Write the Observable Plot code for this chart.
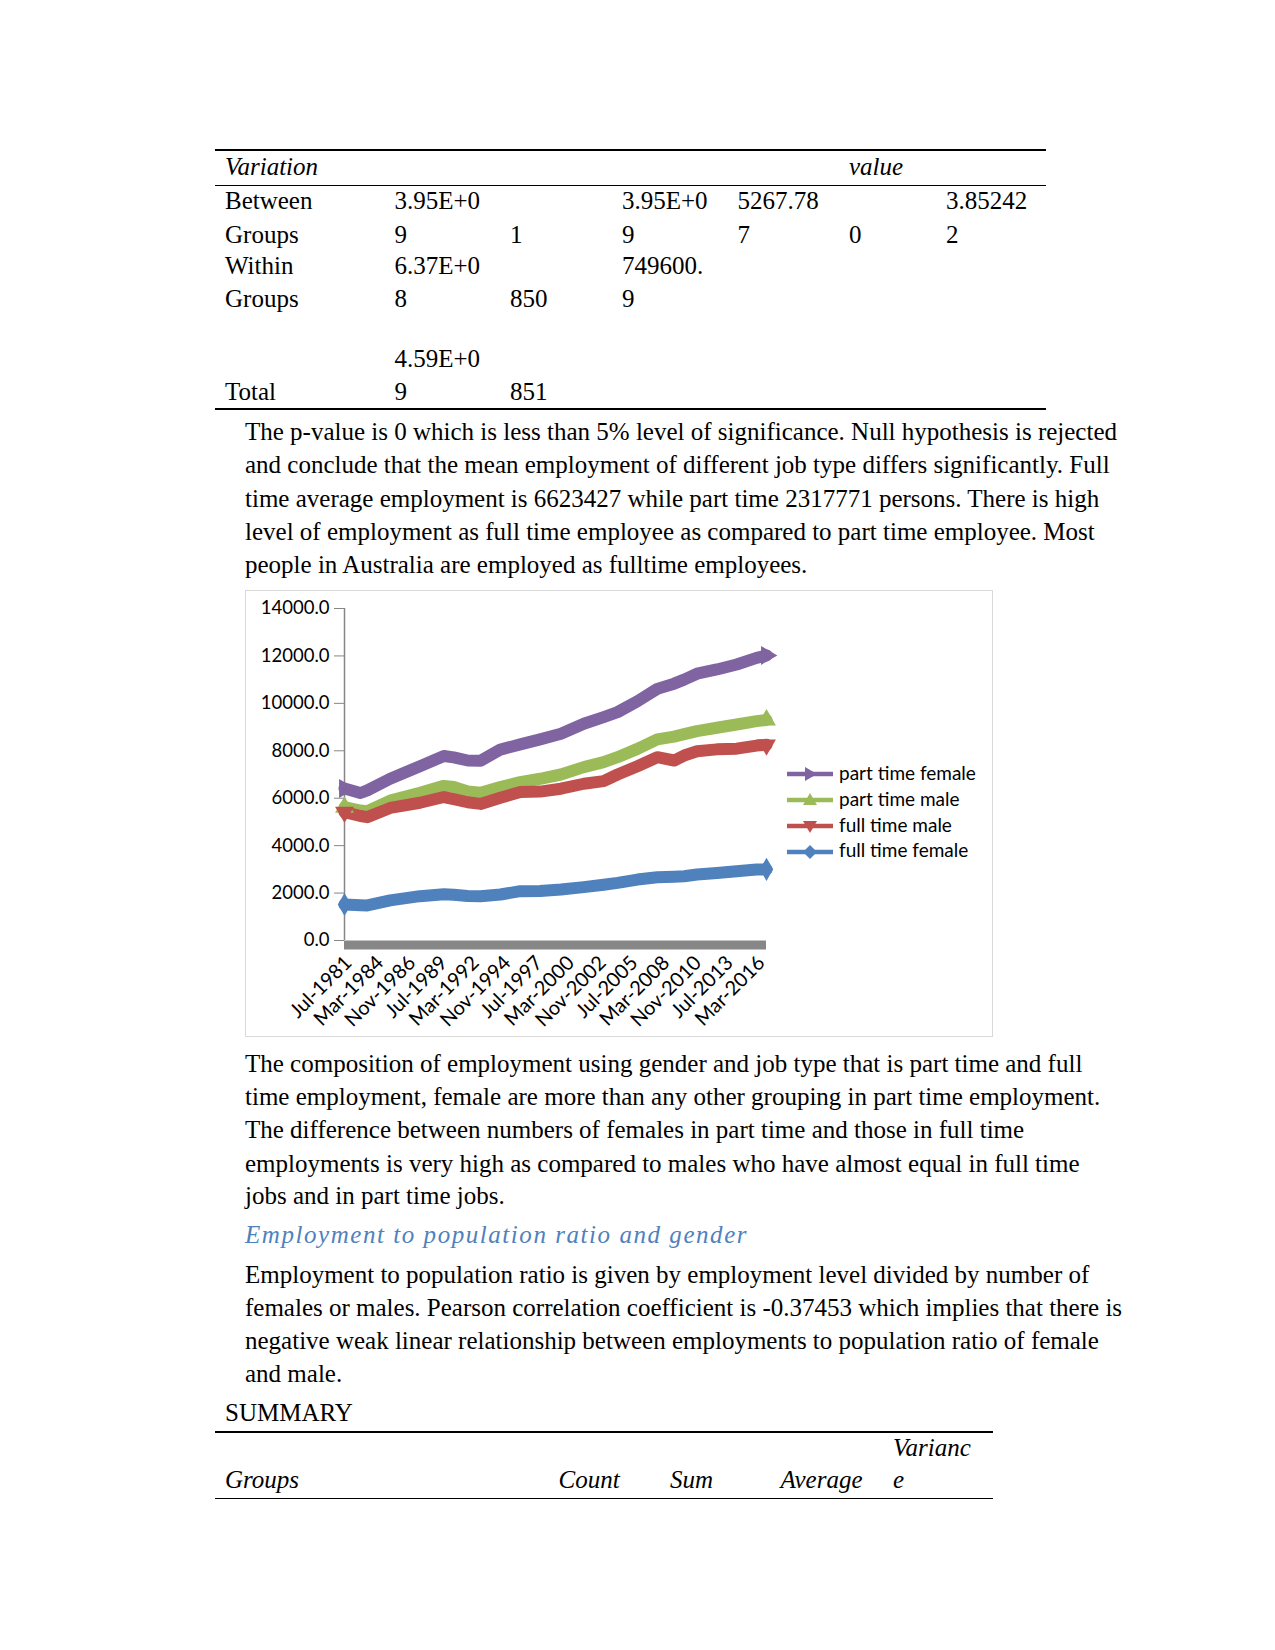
<!DOCTYPE html>
<html>
<head>
<meta charset="utf-8">
<script src="https://cdn.jsdelivr.net/npm/d3@7"></script>
<script src="https://cdn.jsdelivr.net/npm/@observablehq/plot@0.6"></script>
<style>
  html, body { margin: 0; padding: 0; background: #fff; }
  #page { position: relative; width: 1275px; height: 1650px; overflow: hidden; }
  .t { position: absolute; font-family: "Liberation Serif", "Times New Roman", serif; font-size: 25px; line-height: 30px; height: 30px; white-space: nowrap; color: #000; }
  .i { font-style: italic; }
  .rule { position: absolute; background: #000; }
  .h { color: #4f81bd; font-style: italic; letter-spacing: 1.55px; }
  #chartbox { position: absolute; left: 245px; top: 590px; width: 748px; height: 447px; box-sizing: border-box; border: 1px solid #d9d9d9; }
  #chart { position: absolute; left: 245px; top: 590px; }
  #legend { position: absolute; left: 787px; top: 760px; font-family: Lato, "Open Sans", sans-serif; font-size: 19px; color: #000; }
  .lg { position: relative; height: 25.8px; line-height: 26px; white-space: nowrap; }
  .lg svg { vertical-align: middle; margin-right: 6px; position: relative; top: -1px; }
</style>
</head>
<body>
<div id="page">
  <!-- ANOVA table -->
  <div class="rule" style="left:215px;top:149px;width:831px;height:2px"></div>
  <div class="t i" style="left:225px;top:152px">Variation</div>
  <div class="t i" style="left:849px;top:152px">value</div>
  <div class="rule" style="left:215px;top:184.5px;width:831px;height:1px"></div>
  <div class="t" style="left:225px;top:186px">Between</div>
  <div class="t" style="left:394.5px;top:186px">3.95E+0</div>
  <div class="t" style="left:622px;top:186px">3.95E+0</div>
  <div class="t" style="left:737.5px;top:186px">5267.78</div>
  <div class="t" style="left:946px;top:186px">3.85242</div>
  <div class="t" style="left:225px;top:220px">Groups</div>
  <div class="t" style="left:394.5px;top:220px">9</div>
  <div class="t" style="left:510px;top:220px">1</div>
  <div class="t" style="left:622px;top:220px">9</div>
  <div class="t" style="left:737.5px;top:220px">7</div>
  <div class="t" style="left:849px;top:220px">0</div>
  <div class="t" style="left:946px;top:220px">2</div>
  <div class="t" style="left:225px;top:251px">Within</div>
  <div class="t" style="left:394.5px;top:251px">6.37E+0</div>
  <div class="t" style="left:622px;top:251px">749600.</div>
  <div class="t" style="left:225px;top:284px">Groups</div>
  <div class="t" style="left:394.5px;top:284px">8</div>
  <div class="t" style="left:510px;top:284px">850</div>
  <div class="t" style="left:622px;top:284px">9</div>
  <div class="t" style="left:394.5px;top:344px">4.59E+0</div>
  <div class="t" style="left:225px;top:377px">Total</div>
  <div class="t" style="left:394.5px;top:377px">9</div>
  <div class="t" style="left:510px;top:377px">851</div>
  <div class="rule" style="left:215px;top:408px;width:831px;height:2px"></div>

  <!-- Paragraph 1 -->
  <div class="t" style="left:245px;top:417px">The p-value is 0 which is less than 5% level of significance. Null hypothesis is rejected</div>
  <div class="t" style="left:245px;top:450px">and conclude that the mean employment of different job type differs significantly. Full</div>
  <div class="t" style="left:245px;top:484px">time average employment is 6623427 while part time 2317771 persons. There is high</div>
  <div class="t" style="left:245px;top:517px">level of employment as full time employee as compared to part time employee. Most</div>
  <div class="t" style="left:245px;top:550px">people in Australia are employed as fulltime employees.</div>

  <!-- Chart -->
  <div id="chartbox"></div>
  <div id="chart"></div>
  <div id="legend"></div>

  <!-- Paragraph 2 -->
  <div class="t" style="left:245px;top:1049px">The composition of employment using gender and job type that is part time and full</div>
  <div class="t" style="left:245px;top:1082px">time employment, female are more than any other grouping in part time employment.</div>
  <div class="t" style="left:245px;top:1115px">The difference between numbers of females in part time and those in full time</div>
  <div class="t" style="left:245px;top:1149px">employments is very high as compared to males who have almost equal in full time</div>
  <div class="t" style="left:245px;top:1181px">jobs and in part time jobs.</div>

  <div class="t h" style="left:245px;top:1220px">Employment to population ratio and gender</div>

  <!-- Paragraph 3 -->
  <div class="t" style="left:245px;top:1260px">Employment to population ratio is given by employment level divided by number of</div>
  <div class="t" style="left:245px;top:1293px">females or males. Pearson correlation coefficient is -0.37453 which implies that there is</div>
  <div class="t" style="left:245px;top:1326px">negative weak linear relationship between employments to population ratio of female</div>
  <div class="t" style="left:245px;top:1359px">and male.</div>

  <!-- Summary table -->
  <div class="t" style="left:225px;top:1398px">SUMMARY</div>
  <div class="rule" style="left:215px;top:1431px;width:778px;height:2px"></div>
  <div class="t i" style="left:893px;top:1433px">Varianc</div>
  <div class="t i" style="left:225px;top:1465px">Groups</div>
  <div class="t i" style="left:558.6px;top:1465px">Count</div>
  <div class="t i" style="left:670px;top:1465px">Sum</div>
  <div class="t i" style="left:780.6px;top:1465px">Average</div>
  <div class="t i" style="left:893px;top:1465px">e</div>
  <div class="rule" style="left:215px;top:1497.5px;width:778px;height:1px"></div>
</div>

<script>
// ---- Chart data (thousands of persons) ----
const months = ["1981-07","1982-11","1983-06","1985-05","1987-11","1989-11","1990-09","1991-11","1992-12","1994-08","1996-04","1997-12","1999-09","2001-08","2003-04","2004-06","2006-02","2007-10","2009-03","2010-01","2011-02","2012-10","2014-06","2016-02","2016-12"];
const partTimeFemale = [6410,6220,6330,6820,7350,7780,7720,7590,7580,8050,8270,8480,8720,9140,9420,9630,10090,10610,10830,11000,11250,11430,11640,11920,12020];
const partTimeMale   = [5620,5480,5450,5900,6230,6520,6470,6280,6230,6470,6680,6820,7000,7310,7520,7730,8080,8480,8600,8700,8830,8970,9110,9250,9300];
const fullTimeMale   = [5410,5250,5200,5590,5810,6050,5960,5830,5760,6020,6260,6280,6400,6610,6720,7000,7350,7730,7590,7800,7980,8060,8090,8220,8250];
const fullTimeFemale = [1520,1490,1480,1690,1870,1950,1930,1880,1870,1940,2080,2090,2150,2250,2350,2430,2570,2670,2690,2710,2780,2850,2920,2990,3000];
const seriesNames = ["part time female","part time male","full time male","full time female"];
const seriesColors = ["#8064a2","#9bbb59","#c0504d","#4f81bd"];
const tickMonths = ["1981-07","1984-03","1986-11","1989-07","1992-03","1994-11","1997-07","2000-03","2002-11","2005-07","2008-03","2010-11","2013-07","2016-03"];
const yTicks = [0,2000,4000,6000,8000,10000,12000,14000];

const parse = d3.utcParse("%Y-%m");
const seriesValues = [partTimeFemale, partTimeMale, fullTimeMale, fullTimeFemale];
const rows = [];
seriesNames.forEach((name, s) => {
  months.forEach((m, i) => rows.push({series: name, date: parse(m), value: seriesValues[s][i]}));
});
const ends = rows.filter(r => +r.date === +parse(months[0]) || +r.date === +parse(months[months.length - 1]));
const markerSymbol = {"part time female": "triangle", "part time male": "triangle", "full time male": "triangle", "full time female": "diamond"};
const markerRotate = {"part time female": 90, "part time male": 0, "full time male": 180, "full time female": 0};

const chart = Plot.plot({
  width: 748,
  height: 447,
  marginLeft: 99,
  marginRight: 227,
  marginTop: 18,
  marginBottom: 97,
  style: {fontFamily: "Lato, 'Open Sans', sans-serif", fontSize: "18.5px", color: "#000", background: "transparent"},
  x: {type: "utc", domain: [parse(months[0]), parse(months[months.length - 1])]},
  y: {domain: [0, 14000]},
  color: {domain: seriesNames, range: seriesColors},
  marks: [
    Plot.axisY({ticks: yTicks, tickFormat: d => d.toFixed(1), tickSize: 10, tickPadding: 5, stroke: "#868686", label: null}),
    Plot.axisX({ticks: tickMonths.map(parse), tickFormat: d3.utcFormat("%b-%Y"), tickRotate: -45, tickSize: 0, tickPadding: 19, dx: 4, fontSize: 20, label: null}),
    Plot.ruleX([parse(months[0])], {y1: 0, y2: 14000, stroke: "#868686", strokeWidth: 1.5}),
    Plot.ruleY([0], {stroke: "#878787", strokeWidth: 9, dy: 4.5}),
    Plot.line(rows, {x: "date", y: "value", z: "series", stroke: "series", strokeWidth: 12, strokeLinejoin: "round"}),
    Plot.dot(ends, {x: "date", y: "value", fill: "series", symbol: d => markerSymbol[d.series], rotate: d => markerRotate[d.series], r: 7})
  ]
});
document.getElementById("chart").appendChild(chart);

// legend (line + marker swatches)
const legend = d3.select("#legend");
const symPaths = {
  "part time female": "M-5,-7 L7,0 L-5,7 Z",
  "part time male": "M-7,5 L0,-7 L7,5 Z",
  "full time male": "M-7,-5 L0,7 L7,-5 Z",
  "full time female": "M0,-7 L7,0 L0,7 L-7,0 Z"
};
seriesNames.forEach((name, i) => {
  const row = legend.append("div").attr("class", "lg");
  const svg = row.append("svg").attr("width", 46).attr("height", 16);
  svg.append("line").attr("x1", 0).attr("x2", 46).attr("y1", 8).attr("y2", 8)
     .attr("stroke", seriesColors[i]).attr("stroke-width", 4.5);
  svg.append("path").attr("d", symPaths[name]).attr("transform", "translate(23,8)").attr("fill", seriesColors[i]);
  row.append("span").text(name);
});
</script>
</body>
</html>
